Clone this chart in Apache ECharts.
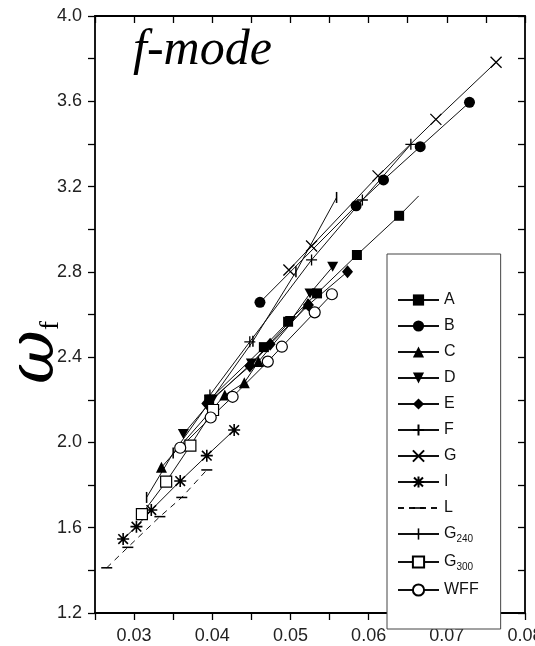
<!DOCTYPE html>
<html><head><meta charset="utf-8">
<script src="https://cdn.jsdelivr.net/npm/echarts@6/dist/echarts.min.js"></script>
<style>html,body{margin:0;padding:0;background:#fff}#c{width:535px;height:646px}</style>
</head><body><div id="c"></div>
<script>
// ---- data ----
const A_x = [0.0396, 0.0466, 0.0497, 0.0534, 0.0585, 0.0639, 0.0664];
const A_y = [2.200, 2.447, 2.566, 2.699, 2.879, 3.063, 3.156];
const B_x = [0.0461, 0.0584, 0.0619, 0.0666, 0.0729];
const B_y = [2.657, 3.110, 3.231, 3.387, 3.595];
const C_x = [0.0335, 0.0416, 0.0441, 0.0459, 0.0522];
const C_y = [1.883, 2.222, 2.280, 2.379, 2.650];
const D_x = [0.0363, 0.0400, 0.0450, 0.0500, 0.0525, 0.0554];
const D_y = [2.039, 2.200, 2.370, 2.570, 2.699, 2.824];
const E_x = [0.0393, 0.0448, 0.0474, 0.0523, 0.0573];
const E_y = [2.183, 2.358, 2.460, 2.645, 2.801];
const F_x = [0.0397, 0.0448, 0.0527, 0.0592, 0.0654];
const F_y = [2.222, 2.472, 2.856, 3.137, 3.398];
const G_x = [0.0498, 0.0527, 0.0612, 0.0686, 0.0763];
const G_y = [2.809, 2.921, 3.250, 3.515, 3.783];
const I_x = [0.0286, 0.0303, 0.0322, 0.0359, 0.0393, 0.0428];
const I_y = [1.547, 1.605, 1.683, 1.819, 1.938, 2.058];
const L_x = [0.0265, 0.0292, 0.0333, 0.0361, 0.0393];
const L_y = [1.412, 1.508, 1.652, 1.742, 1.871];
const G240_x = [0.0316, 0.0350, 0.0452, 0.0507, 0.0559];
const G240_y = [1.742, 1.950, 2.475, 2.800, 3.149];
const G300_x = [0.0310, 0.0341, 0.0372, 0.0401];
const G300_y = [1.664, 1.816, 1.985, 2.152];
const WFF_x = [0.0359, 0.0398, 0.0426, 0.0471, 0.0489, 0.0531, 0.0553];
const WFF_y = [1.975, 2.117, 2.214, 2.379, 2.449, 2.610, 2.695];

const seriesNames = ['A','B','C','D','E','F','G','I','L','G240','G300','WFF'];
const xTickMin = 0.025, xTickMax = 0.08, xTickStep = 0.005;
const yTickMin = 1.2, yTickMax = 4.0, yTickStep = 0.2;
const titleText = 'f-mode';

const dataSets = {
  A:[A_x,A_y], B:[B_x,B_y], C:[C_x,C_y], D:[D_x,D_y], E:[E_x,E_y], F:[F_x,F_y],
  G:[G_x,G_y], I:[I_x,I_y], L:[L_x,L_y], G240:[G240_x,G240_y], G300:[G300_x,G300_y], WFF:[WFF_x,WFF_y]
};

// ---- styles ----
const K = '#000';
const filled = {color:K, borderWidth:0};
const stroked = {color:K, borderColor:K, borderWidth:1.3};
const open = {color:'#fff', borderColor:K, borderWidth:1.2};
const styles = {
  A:{symbol:'rect', size:10, item:filled},
  B:{symbol:'circle', size:11, item:filled},
  C:{symbol:'triangle', size:11, item:filled},
  D:{symbol:'path://M0,0L10,0L5,9Z', size:[11,10], item:filled},
  E:{symbol:'diamond', size:[11,13], item:filled},
  F:{symbol:'path://M5,0L5,10M0,5L10,5', size:11, item:stroked},
  G:{symbol:'path://M0,0L10,10M10,0L0,10', size:11, item:stroked},
  I:{symbol:'path://M1,1L9,9M9,1L1,9M5,0L5,10M0,5L10,5', size:12, item:{color:K,borderColor:K,borderWidth:1.6}},
  L:{symbol:'path://M0,0M10,10M0,4.3L10,4.3L10,5.7L0,5.7Z', size:11, item:filled, dash:[6,5]},
  G240:{symbol:'path://M0,0M10,10M4.3,0L5.7,0L5.7,10L4.3,10Z', size:11, item:filled},
  G300:{symbol:'rect', size:11, item:open},
  WFF:{symbol:'circle', size:11, item:open}
};

const series = seriesNames.map(function(n){
  const xs = dataSets[n][0], ys = dataSets[n][1], st = styles[n];
  const data = xs.map(function(x,i){
    const d = {value:[x, ys[i]]};
    if (n === 'A' && i === xs.length-1) d.symbol = 'none';
    return d;
  });
  return {
    name:n, type:'line', data:data, symbol:st.symbol, symbolSize:st.size,
    showAllSymbol:true, clip:false,
    itemStyle:st.item,
    lineStyle:{color:'#111', width:1, type: st.dash ? st.dash : 'solid'},
    emphasis:{disabled:true}, z: 2
  };
});

const labelFont = 'Liberation Sans';
const chart = echarts.init(document.getElementById('c'), null, {renderer:'canvas'});
chart.setOption({
  animation:false,
  backgroundColor:'#fff',
  title:{text:titleText, left:128, top:21,
    textStyle:{fontFamily:'Liberation Serif', fontStyle:'italic', fontWeight:'normal', fontSize:50, color:'#000'}},
  grid:{left:95, right:10, top:16, bottom:33, containLabel:false, outerBoundsMode:'none'},
  legend:{
    data:seriesNames, orient:'vertical', left:387, top:254,
    itemWidth:41, itemHeight:14, itemGap:10,
    padding:[38, 22, 31, 10],
    borderColor:'#444', borderWidth:1, backgroundColor:'#fff',
    selectedMode:false,
    textStyle:{fontFamily:labelFont, fontSize:16, color:'#111',
      rich:{s:{fontFamily:labelFont, fontSize:10, color:'#111', padding:[10,0,0,0]}}},
    formatter:function(n){ return (n==='G240'||n==='G300') ? 'G{s|'+n.slice(1)+'}' : n; }
  },
  xAxis:[
    {type:'value', min:xTickMin, max:xTickMax, interval:xTickStep, position:'bottom',
     axisLine:{onZero:false, lineStyle:{color:K, width:1.8}},
     axisTick:{inside:false, length:7, lineStyle:{color:K, width:1.3}},
     splitLine:{show:false},
     axisLabel:{margin:14, fontSize:18, color:'#222', fontFamily:labelFont, hideOverlap:false,
       formatter:function(v){ const k=Math.round(v*1000); return (k%10===0)? v.toFixed(2) : ''; }}},
    {type:'value', min:xTickMin, max:xTickMax, interval:xTickStep, position:'top',
     axisLine:{onZero:false, lineStyle:{color:K, width:1.8}},
     axisTick:{inside:true, length:7, lineStyle:{color:K, width:1.3}},
     splitLine:{show:false}, axisLabel:{show:false}}
  ],
  yAxis:[
    {type:'value', min:yTickMin, max:yTickMax, interval:yTickStep, position:'left',
     axisLine:{onZero:false, lineStyle:{color:K, width:1.8}},
     axisTick:{inside:false, length:7, lineStyle:{color:K, width:1.3}},
     splitLine:{show:false},
     axisLabel:{margin:13, fontSize:18, color:'#222', fontFamily:labelFont,
       formatter:function(v){ const k=Math.round(v*10); return (k%4===0)? v.toFixed(1) : ''; }},
     name:'{w|ω}{f|f}', nameLocation:'middle', nameGap:26, nameRotate:90, nameMoveOverlap:false,
     nameTextStyle:{padding:[0,76,0,0],
       rich:{w:{fontFamily:'DejaVu Serif', fontStyle:'italic', fontSize:66, color:'#000'},
             f:{fontFamily:'Liberation Serif', fontSize:27, color:'#000', padding:[30,0,0,0]}}}},
    {type:'value', min:yTickMin, max:yTickMax, interval:yTickStep, position:'right',
     axisLine:{onZero:false, lineStyle:{color:K, width:1.8}},
     axisTick:{inside:true, length:7, lineStyle:{color:K, width:1.3}},
     splitLine:{show:false}, axisLabel:{show:false}}
  ],
  series:series
});
</script>
</body></html>
